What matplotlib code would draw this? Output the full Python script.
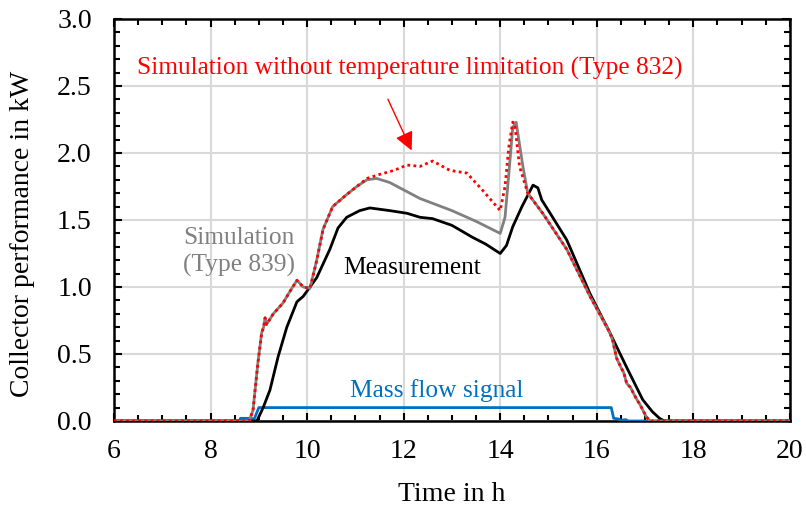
import matplotlib
matplotlib.use("Agg")
import matplotlib.pyplot as plt
from matplotlib.ticker import MultipleLocator

plt.rcParams['font.family'] = ['Liberation Serif', 'DejaVu Serif']
plt.rcParams['font.size'] = 20

# measured collector output (kW) over time of day (h)
meas_t = [6.0, 8.96, 9.09, 9.23, 9.4, 9.58, 9.79, 9.92, 10.02, 10.2, 10.47, 10.64,
          10.82, 11.09, 11.3, 11.71, 12.07, 12.34, 12.6, 13.0, 13.43, 13.7, 14.0,
          14.13, 14.26, 14.45, 14.68, 14.78, 14.86, 15.0, 15.38, 15.86, 16.27,
          16.62, 16.95, 17.15, 17.3, 17.4, 20.0]
meas_p = [0.0, 0.0, 0.10, 0.23, 0.48, 0.70, 0.89, 0.93, 0.98, 1.07, 1.28, 1.44,
          1.52, 1.57, 1.59, 1.57, 1.55, 1.52, 1.51, 1.46, 1.37, 1.32, 1.25,
          1.31, 1.45, 1.60, 1.76, 1.74, 1.65, 1.57, 1.35, 0.95, 0.66,
          0.40, 0.16, 0.07, 0.02, 0.0, 0.0]

# Type 839 simulation (with temperature limitation)
t839_t = [6.0, 8.8, 8.88, 8.98, 9.06, 9.1, 9.13, 9.16, 9.3, 9.5, 9.65, 9.79, 9.92,
          10.06, 10.2, 10.33, 10.53, 10.82, 11.03, 11.24, 11.44, 11.71, 11.92,
          12.34, 13.0, 13.5, 14.0, 14.1, 14.18, 14.26, 14.33, 14.47, 14.57, 14.88,
          15.38, 15.86, 16.27, 16.33, 16.41, 16.5, 16.56, 16.62, 16.7, 16.77,
          16.83, 16.9, 16.97, 17.03, 17.1, 20.0]
t839_p = [0.0, 0.0, 0.08, 0.43, 0.66, 0.70, 0.77, 0.72, 0.80, 0.88, 0.97, 1.05, 1.00,
          0.99, 1.20, 1.43, 1.60, 1.69, 1.75, 1.80, 1.81, 1.78, 1.74,
          1.66, 1.57, 1.49, 1.40, 1.52, 1.85, 2.19, 2.23, 1.90, 1.70, 1.55,
          1.28, 0.93, 0.66, 0.60, 0.47, 0.40, 0.36, 0.28, 0.25, 0.20,
          0.16, 0.12, 0.07, 0.03, 0.0, 0.0]

# Type 832 simulation (no temperature limitation)
t832_t = [6.0, 8.8, 8.88, 8.98, 9.06, 9.1, 9.13, 9.16, 9.3, 9.5, 9.65, 9.79, 9.92,
          10.06, 10.2, 10.33, 10.53, 10.82, 11.03, 11.24, 11.5, 11.8, 12.07,
          12.34, 12.6, 12.96, 13.31, 13.64, 14.0, 14.1, 14.18, 14.26, 14.3, 14.4,
          14.57, 14.88, 15.38, 15.86, 16.27, 16.33, 16.41, 16.5, 16.56, 16.62,
          16.7, 16.77, 16.83, 16.9, 16.97, 17.03, 17.1, 20.0]
t832_p = [0.0, 0.0, 0.08, 0.43, 0.66, 0.70, 0.77, 0.72, 0.80, 0.88, 0.97, 1.05, 1.00,
          0.99, 1.20, 1.43, 1.60, 1.69, 1.75, 1.81, 1.84, 1.87, 1.91,
          1.90, 1.94, 1.87, 1.85, 1.72, 1.57, 1.75, 2.05, 2.23, 2.22, 1.90,
          1.70, 1.55, 1.28, 0.93, 0.66, 0.60, 0.47, 0.40, 0.36, 0.28,
          0.25, 0.20, 0.16, 0.12, 0.07, 0.03, 0.0, 0.0]

# mass flow on/off signal
flow_t = [6.0, 8.6, 8.62, 8.85, 8.9, 9.0, 16.3, 16.35, 16.45, 16.5, 16.6, 16.65, 16.7, 20.0]
flow_s = [0.0, 0.0, 0.02, 0.02, 0.01, 0.10, 0.10, 0.02, 0.015, 0.005, 0.01, 0.0, 0.0, 0.0]

fig = plt.figure(figsize=(8.06, 5.09), dpi=100)
ax = fig.add_axes([0.1414, 0.1729, 0.8386, 0.7898])

ax.plot(flow_t, flow_s, color='#0070C0', lw=2, zorder=3)
ax.plot(meas_t, meas_p, color='black', lw=2, zorder=4)
ax.plot(t839_t, t839_p, color='#808080', lw=2, zorder=5)
ax.plot(t832_t, t832_p, color='red', lw=2, ls=(0, (1, 1.2)), zorder=6)

ax.set_xlim(6, 20)
ax.set_ylim(0, 3)
ax.xaxis.set_major_locator(MultipleLocator(2))
ax.xaxis.set_minor_locator(MultipleLocator(0.5))
ax.yaxis.set_major_locator(MultipleLocator(0.5))
ax.yaxis.set_minor_locator(MultipleLocator(0.1))
ax.yaxis.set_major_formatter(lambda v, p: f"{v:.1f}")
ax.grid(True, which='major', color='#d9d9d9', lw=1.5, zorder=0)
ax.set_axisbelow(True)
ax.tick_params(which='both', direction='in', top=True, right=True, width=1.5)
ax.tick_params(which='major', length=6)
ax.tick_params(which='minor', length=4.5)
ax.tick_params(axis='x', pad=13)
ax.tick_params(axis='y', pad=16)
for s in ax.spines.values():
    s.set_linewidth(1.8)

ax.set_xlabel("Time in h")
ax.set_ylabel("Collector performance in kW")
ax.yaxis.set_label_coords(-0.135, 0.465)
ax.xaxis.set_label_coords(0.5, -0.184)
ax.xaxis.label.set_va('center')
ax.yaxis.label.set_va('center')

ann = 18.3
ax.text(6.48, 2.63, "Simulation without temperature limitation (Type 832)",
        color='red', va='center', ha='left', fontsize=ann)
ax.annotate("", xy=(12.19, 2.0), xytext=(11.65, 2.42),
            arrowprops=dict(arrowstyle='-|>', color='red', lw=1, mutation_scale=28))
ax.text(7.43, 1.26, "Simulation\n(Type 839)", color='#808080', va='center', ha='left',
        linespacing=1.25, fontsize=ann)
ax.text(10.74, 1.14, "Measurement", color='black', va='center', ha='left', fontsize=ann)
ax.text(10.89, 0.23, "Mass flow signal", color='#0070C0', va='center', ha='left', fontsize=ann)

fig.savefig("out.png", dpi=100)
